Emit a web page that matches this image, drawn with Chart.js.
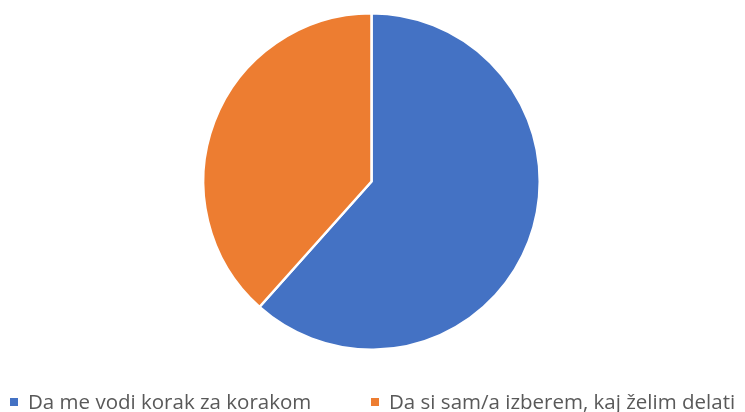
<!DOCTYPE html>
<html>
<head>
<meta charset="utf-8">
<script src="https://cdn.jsdelivr.net/npm/chart.js@4/dist/chart.umd.min.js"></script>
<style>
  html, body { margin: 0; padding: 0; background: #fff; overflow: hidden; }
  #wrap { position: relative; width: 745px; height: 412px; }
  #legenda { position: absolute; left: 0; top: 389px; width: 745px; height: 24px;
             font-family: "Open Sans", sans-serif; font-size: 20.5px; line-height: 24px; color: #595959; white-space: nowrap; }
  .postavka { position: absolute; top: 0; }
  .kvadrat { position: absolute; top: 9px; width: 8px; height: 8px; }
  .tekst { position: absolute; top: 0; left: 18px; }
</style>
</head>
<body>
<div id="wrap">
  <canvas id="grafPita"></canvas>
  <div id="legenda"></div>
</div>
<script>
var kategorije = ["Da me vodi korak za korakom", "Da si sam/a izberem, kaj želim delati"];
var vrednosti = [61.6, 38.4];
var barve = ["#4472C4", "#ED7D31"];
var legendaX = [10, 371];

var ctx = document.getElementById("grafPita").getContext('2d');
var graf = new Chart(ctx, {
    type: 'pie',
    data: {
        labels: kategorije,
        datasets: [{
            data: vrednosti,
            backgroundColor: barve,
            borderColor: "#ffffff",
            borderWidth: 2.5
        }]
    },
    options: {
        responsive: true,
        maintainAspectRatio: false,
        animation: false,
        layout: { padding: { top: 12, bottom: 61, right: 2 } },
        plugins: {
            tooltip: { enabled: false },
            legend: { display: false }
        }
    }
});

// legenda spodaj
var legenda = document.getElementById("legenda");
var indice = 0;
while (indice < kategorije.length) {
    var el = document.createElement("div");
    el.className = "postavka";
    el.style.left = legendaX[indice] + "px";
    el.innerHTML = '<span class="kvadrat" style="background:' + barve[indice] + '"></span>' +
                   '<span class="tekst"></span>';
    el.querySelector(".tekst").textContent = kategorije[indice];
    legenda.appendChild(el);
    indice++;
}
</script>
</body>
</html>
